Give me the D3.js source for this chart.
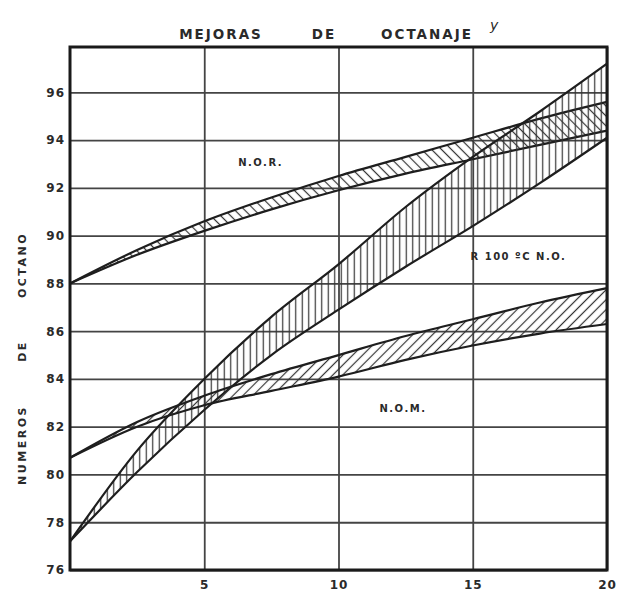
<!DOCTYPE html>
<html>
<head>
<meta charset="utf-8">
<script src="https://cdn.jsdelivr.net/npm/d3@7"></script>
<style>
  body { margin: 0; background: #fff; }
  text { font-family: "DejaVu Sans", sans-serif; fill: #2a2a2a; }
</style>
</head>
<body>
<div id="chart-area"></div>
<script>
let width = 620;
let height = 594;

// values
let xs = [0, 2.5, 5, 7.5, 10, 12.5, 15, 17.5, 20];
let norHigh = [88.0, 89.4, 90.6, 91.6, 92.5, 93.3, 94.1, 94.9, 95.6];
let norLow = [88.0, 89.2, 90.2, 91.1, 91.9, 92.6, 93.2, 93.8, 94.4];
let rHigh = [77.2, 81.0, 84.0, 86.6, 88.8, 91.2, 93.3, 95.2, 97.2];
let rLow = [77.2, 80.1, 82.7, 85.0, 86.9, 88.7, 90.4, 92.2, 94.1];
let nomHigh = [80.7, 82.2, 83.3, 84.2, 85.0, 85.8, 86.5, 87.2, 87.8];
let nomLow = [80.7, 82.0, 82.9, 83.5, 84.1, 84.8, 85.4, 85.9, 86.3];

let yTicks = [76, 78, 80, 82, 84, 86, 88, 90, 92, 94, 96];
let xTicks = [5, 10, 15, 20];

let plotLeft = 70, plotRight = 607, plotTop = 47, plotBottom = 570;

let svg = d3.select("#chart-area")
	.append("svg")
	.attr("width", width)
	.attr("height", height);

let x = d3.scaleLinear().domain([0, 20]).range([plotLeft, plotRight]);
let y = d3.scaleLinear().domain([76, 97.9]).range([plotBottom, plotTop]);

// hatch patterns
let defs = svg.append("defs");
function hatch(id, angle, gap) {
	defs.append("pattern")
		.attr("id", id)
		.attr("patternUnits", "userSpaceOnUse")
		.attr("width", gap)
		.attr("height", gap)
		.attr("patternTransform", `rotate(${angle})`)
		.append("line")
		.attr("x1", gap / 2).attr("x2", gap / 2)
		.attr("y1", 0).attr("y2", gap)
		.attr("stroke", "#333")
		.attr("stroke-width", 1.2);
}
hatch("h-nor", -45, 7);
hatch("h-r", 0, 6.5);
hatch("h-nom", 45, 7);

// grid + tick labels
svg.append("g")
	.attr("transform", `translate(${plotLeft},0)`)
	.call(d3.axisLeft(y).tickValues(yTicks).tickSize(-(plotRight - plotLeft)).tickPadding(5))
	.call(g => g.select(".domain").remove())
	.call(g => g.selectAll("line").attr("stroke", "#444").attr("stroke-width", 1.8))
	.call(g => g.selectAll("text")
		.style("font-size", "12px").style("font-weight", "bold")
		.style("letter-spacing", "1px").attr("fill", "#333"));

svg.append("g")
	.attr("transform", `translate(0,${plotBottom})`)
	.call(d3.axisBottom(x).tickValues(xTicks).tickSize(-(plotBottom - plotTop)).tickPadding(10))
	.call(g => g.select(".domain").remove())
	.call(g => g.selectAll("line").attr("stroke", "#444").attr("stroke-width", 1.8))
	.call(g => g.selectAll("text")
		.style("font-size", "12px").style("font-weight", "bold")
		.style("letter-spacing", "1px").attr("fill", "#333"));

// bands
let bands = [
	{ hi: norHigh, lo: norLow, fill: "url(#h-nor)" },
	{ hi: rHigh, lo: rLow, fill: "url(#h-r)" },
	{ hi: nomHigh, lo: nomLow, fill: "url(#h-nom)" }
];

let area = d3.area()
	.x(d => x(d.x))
	.y0(d => y(d.lo))
	.y1(d => y(d.hi))
	.curve(d3.curveMonotoneX);

let line = d3.line()
	.x(d => x(d.x))
	.y(d => y(d.v))
	.curve(d3.curveMonotoneX);

bands.forEach(b => {
	let pts = xs.map((v, i) => ({ x: v, hi: b.hi[i], lo: b.lo[i] }));
	svg.append("path")
		.attr("d", area(pts))
		.attr("fill", b.fill);
	[b.hi, b.lo].forEach(s => {
		svg.append("path")
			.attr("d", line(xs.map((v, i) => ({ x: v, v: s[i] }))))
			.attr("fill", "none")
			.attr("stroke", "#1e1e1e")
			.attr("stroke-width", 2.2);
	});
});

// frame
svg.append("rect")
	.attr("x", plotLeft).attr("y", plotTop)
	.attr("width", plotRight - plotLeft).attr("height", plotBottom - plotTop)
	.attr("fill", "none")
	.attr("stroke", "#1a1a1a")
	.attr("stroke-width", 3);

// title, word by word as spaced on the sheet
let titleWords = [
	{ t: "MEJORAS", cx: 221 },
	{ t: "DE", cx: 324 },
	{ t: "OCTANAJE", cx: 427 }
];
svg.selectAll(".title")
	.data(titleWords)
	.enter()
	.append("text")
	.attr("class", "title")
	.attr("x", d => d.cx)
	.attr("y", 39)
	.attr("text-anchor", "middle")
	.style("font-size", "13.5px")
	.style("font-weight", "bold")
	.style("letter-spacing", "2px")
	.text(d => d.t);

svg.append("text")
	.attr("x", 490).attr("y", 30)
	.style("font-size", "14px")
	.style("font-style", "italic")
	.text("y");

// y-axis label
let yWords = [
	{ t: "NUMEROS", cy: 445 },
	{ t: "DE", cy: 351 },
	{ t: "OCTANO", cy: 265 }
];
svg.selectAll(".ylab")
	.data(yWords)
	.enter()
	.append("text")
	.attr("class", "ylab")
	.attr("transform", d => `translate(26,${d.cy}) rotate(-90)`)
	.attr("text-anchor", "middle")
	.style("font-size", "11px")
	.style("font-weight", "bold")
	.style("letter-spacing", "2.5px")
	.text(d => d.t);

// band labels
let labels = [
	{ t: "N.O.R.", x: 7.1, y: 92.9 },
	{ t: "R   100 ºC   N.O.", x: 16.7, y: 89.0 },
	{ t: "N.O.M.", x: 12.4, y: 82.6 }
];
svg.selectAll(".lbl")
	.data(labels)
	.enter()
	.append("text")
	.attr("class", "lbl")
	.attr("x", d => x(d.x))
	.attr("y", d => y(d.y))
	.attr("text-anchor", "middle")
	.style("font-size", "10px")
	.style("font-weight", "bold")
	.style("letter-spacing", "1.5px")
	.text(d => d.t);
</script>
</body>
</html>
